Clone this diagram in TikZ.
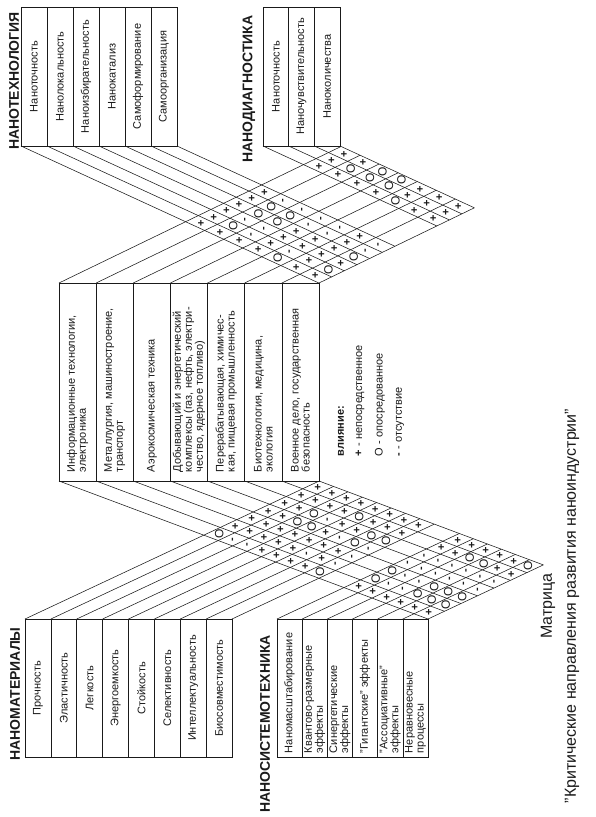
\documentclass[tikz,border=0pt]{standalone}
\usepackage{fontspec}
\setmainfont{Liberation Sans}
\usetikzlibrary{positioning}
\definecolor{InkBlack}{HTML}{1A1A1A}

% cell marks
\newcommand{\symp}{\textbf{+}}
\newcommand{\symo}{{\fontsize{12}{12}\selectfont O}}
\newcommand{\symm}{\textbf{-}}

\begin{document}
\begin{tikzpicture}[x=1pt, y=-1pt, line width=0.55pt, draw=InkBlack, text=InkBlack,
  declare function={
    ux(\pa,\pb)=(137+0.46*\pa+0.484*\pb)/0.944;
    uy(\pa,\pb)=146+0.46*(ux(\pa,\pb)-\pa);
    lx(\pb,\pc)=(138+0.374*\pb+0.469*\pc)/0.843;
    ly(\pb,\pc)=481+0.374*(lx(\pb,\pc)-\pb);
  },
  every node/.style={inner sep=0pt, outer sep=0pt},
  head/.style={rotate=90, font=\fontsize{14}{14}\selectfont\bfseries},
  nanobox/.style={draw, fill=white, minimum height=139pt, font=\fontsize{11}{11}\selectfont},
  indbox/.style={draw, fill=white, minimum width=37.14pt, minimum height=198pt, font=\fontsize{11}{11}\selectfont},
  symb/.style={rotate=90, font=\fontsize{11}{11}\selectfont},
  legend/.style={rotate=90, anchor=west, font=\fontsize{11}{11}\selectfont},
  titletext/.style={rotate=90, font=\fontsize{16}{16}\selectfont}]

  \fill[white] (0,0) rectangle (595,817);
  \useasboundingbox (0,0) rectangle (595,817);

  % upper grid: nanotechnology / nanodiagnostics x industries
  \foreach \pa in {21,47,73,99,125,151,177,263,288.67,314.33,340}
    \draw (\pa,146) -- ({ux(\pa,319)},{uy(\pa,319)});
  \foreach \i in {0,...,7} {
    \pgfmathsetmacro\pb{59+37.143*\i}
    \draw (\pb,283) -- ({ux(340,\pb)},{uy(340,\pb)});
  }

  % lower grid: industries x nanomaterials / nanosystems
  \foreach \i in {0,...,7} {
    \pgfmathsetmacro\pb{59+37.143*\i}
    \draw (\pb,481) -- ({lx(\pb,428)},{ly(\pb,428)});
  }
  \foreach \pc in {25,50.875,76.75,102.625,128.5,154.375,180.25,206.125,232,277,302.17,327.33,352.5,377.67,402.83,428}
    \draw (\pc,619) -- ({lx(319,\pc)},{ly(319,\pc)});

  % boxes
  \foreach \txt [count=\j] in {Наноточность, Нанолокальность, Наноизбирательность, Нанокатализ, Самоформирование, Самоорганизация}
    \node[nanobox, minimum width=26pt] (nt\j) at ({8+26*\j},76.5) {\rotatebox{90}{\txt}};
  \foreach \txt [count=\j] in {Наноточность, Наночувствительность, Наноколичества}
    \node[nanobox, minimum width=25.67pt] (nd\j) at ({250.17+25.667*\j},76.5) {\rotatebox{90}{\txt}};
  \foreach \txt [count=\i] in {{Информационные технологии,\\электроника},
      {Металлургия, машиностроение,\\транспорт},
      {Аэрокосмическая техника},
      {Добывающий и энергетический\\комплексы (газ, нефть, электри-\\чество, ядерное топливо)},
      {Перерабатывающая, химичес-\\кая, пищевая промышленность},
      {Биотехнология, медицина,\\экология},
      {Военное дело, государственная\\безопасность}}
    \node[indbox] (ind\i) at ({40.43+37.143*\i},382) {\rotatebox{90}{\parbox{180pt}{\raggedright\txt}}};
  \foreach \txt [count=\k] in {Прочность, Эластичность, Легкость, Энергоемкость, Стойкость, Селективность, Интеллектуальность, Биосовместимость}
    \node[nanobox, minimum width=25.875pt, minimum height=138pt] (nm\k) at ({12.06+25.875*\k},688) {\rotatebox{90}{\txt}};
  \foreach \txt [count=\m] in {{Наномасштабирование}, {Квантово-размерные\\эффекты}, {Синергетические\\эффекты},
      {"Гигантские" эффекты}, {"Ассоциативные"\\эффекты}, {Неравновесные\\процессы}}
    \node[nanobox, minimum width=25.17pt, minimum height=138pt] (ns\m) at ({264.42+25.167*\m},688)
      {\rotatebox{90}{\parbox{130pt}{\raggedright\txt}}};

  % marks, upper grid
  \foreach \row [count=\i] in {{p,p,p,p,p,p},{p,o,m,o,o,m},{p,m,m,o,o,m},{p,p,p,p,m,m},
      {o,m,p,p,m,m},{p,p,p,p,p,p},{p,o,p,o,m,m}}
    \foreach \sy [count=\j] in \row {
      \pgfmathsetmacro\pa{8+26*\j}
      \pgfmathsetmacro\pb{40.43+37.143*\i}
      \node[symb] (ut-\i-\j) at ({ux(\pa,\pb)},{uy(\pa,\pb)}) {\csname sym\sy\endcsname};
    }
  \foreach \row [count=\i] in {{p,p,p},{p,o,p},{p,o,o},{p,o,o},{o,p,p},{p,p,p},{p,p,p}}
    \foreach \sy [count=\j] in \row {
      \pgfmathsetmacro\pa{250.17+25.667*\j}
      \pgfmathsetmacro\pb{40.43+37.143*\i}
      \node[symb] (ud-\i-\j) at ({ux(\pa,\pb)},{uy(\pa,\pb)}) {\csname sym\sy\endcsname};
    }

  % marks, lower grid
  \foreach \row [count=\i] in {{o,m,m,p,p,p,p,o},{p,p,p,p,p,m,p,m},{p,p,p,p,p,p,p,m},{p,p,o,o,p,m,o,m},
      {p,p,o,m,p,p,o,o},{p,p,p,p,o,p,p,p},{p,p,p,p,p,p,p,p}}
    \foreach \sy [count=\k] in \row {
      \pgfmathsetmacro\pc{12.06+25.875*\k}
      \pgfmathsetmacro\pb{40.43+37.143*\i}
      \node[symb] (lm-\i-\k) at ({lx(\pb,\pc)},{ly(\pb,\pc)}) {\csname sym\sy\endcsname};
    }
  \foreach \row [count=\i] in {{p,p,p,p,p,p},{o,m,m,o,o,o},{o,m,m,o,o,o},{m,m,m,m,m,m},
      {m,m,m,m,m,m},{p,p,o,o,p,p},{p,p,p,p,p,o}}
    \foreach \sy [count=\m] in \row {
      \pgfmathsetmacro\pc{264.42+25.167*\m}
      \pgfmathsetmacro\pb{40.43+37.143*\i}
      \node[symb] (ls-\i-\m) at ({lx(\pb,\pc)},{ly(\pb,\pc)}) {\csname sym\sy\endcsname};
    }

  % headings
  \node[head] (hnt) at (14,81) {НАНОТЕХНОЛОГИЯ};
  \node[head] (hnd) at (249,89) {НАНОДИАГНОСТИКА};
  \node[head] (hnm) at (15,694) {НАНОМАТЕРИАЛЫ};
  \node[head] (hns) at (265,724) {НАНОСИСТЕМОТЕХНИКА};

  % legend
  \node[legend, font=\fontsize{11}{11}\selectfont\bfseries] (lg0) at (341,456) {влияние:};
  \node[legend] (lg1) at (360,456) {\textbf{+} - непосредственное};
  \node[legend] (lg2) at (380,456) {O - опосредованное};
  \node[legend] (lg3) at (400,456) {\textbf{-} - отсутствие};

  % title
  \node[titletext] (ttl1) at (548,606) {Матрица};
  \node[titletext] (ttl2) at (572,606) {"Критические направления развития наноиндустрии"};
\end{tikzpicture}
\end{document}
